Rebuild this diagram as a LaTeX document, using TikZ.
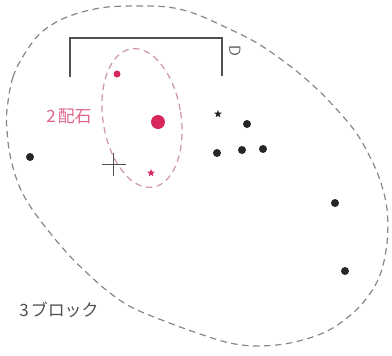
\documentclass[tikz,border=0pt]{standalone}
\usepackage{fontspec}
\newfontfamily\jp{Noto Sans CJK JP}
\usetikzlibrary{shapes.geometric}
\definecolor{pinkc}{RGB}{214,40,92}
\definecolor{pinktext}{RGB}{222,100,135}
\definecolor{dashgray}{RGB}{135,135,135}
\definecolor{dashpink}{RGB}{205,150,165}
\definecolor{darkline}{RGB}{80,80,80}
\tikzset{
  bigdash/.style={draw=dashgray, dash pattern=on 6.5bp off 4.5bp, line width=1.2bp},
  pinkdash/.style={draw=dashpink, dash pattern=on 6.5bp off 4.5bp, line width=1.2bp},
  blackdot/.style={circle, fill=black!85, inner sep=0pt, minimum size=8bp},
  pinkdot/.style={circle, fill=pinkc, inner sep=0pt, minimum size=7bp},
  bigpinkdot/.style={circle, fill=pinkc, inner sep=0pt, minimum size=14bp},
  starmark/.style={star, star points=5, star point ratio=2.3, inner sep=0pt, minimum size=8bp},
  lbl/.style={font=\jp\fontsize{17}{17}\selectfont, inner sep=0pt}
}
\begin{document}
\begin{tikzpicture}[x=1bp,y=-1bp]
\useasboundingbox (0,0) rectangle (392,356);
% outer block boundary
\draw[bigdash] plot[smooth cycle, tension=0.6] coordinates {
 (7,110) (13,77) (27,50) (43,31) (67,17) (100,8) (133,6) (167,7) (193,13) (223,26)
 (257,43) (290,66) (317,89) (340,113) (357,134) (370,157) (380,180) (387,209)
 (387,243) (380,275) (366,299) (347,318) (323,333) (290,343) (257,346) (230,343)
 (200,334) (167,322) (133,308) (110,293) (87,273) (67,253) (47,229) (30,206)
 (18,183) (10,155) (7,130)};
% pink group
\draw[pinkdash, rotate around={9:(142,118)}] (142,118) ellipse [x radius=39, y radius=70];
% bracket
\coordinate (b1) at (70,77);
\coordinate (b2) at (70,38);
\coordinate (b3) at (222,38);
\coordinate (b4) at (222,76);
\draw[darkline, line width=1.3bp] (b1) -- (b2) -- (b3) -- (b4);
\node[font=\sffamily\fontsize{16}{16}\selectfont, text=darkline, rotate=-90, inner sep=0pt] (d) at (235,51) {D};
% black stones
\node[blackdot] (s1) at (30,157) {};
\node[blackdot] (s2) at (247,124) {};
\node[blackdot] (s3) at (217,153) {};
\node[blackdot] (s4) at (242,150) {};
\node[blackdot] (s5) at (263,149) {};
\node[blackdot] (s6) at (335,203) {};
\node[blackdot] (s7) at (345,271) {};
\node[starmark, fill=black!85] (s8) at (218,114) {};
% pink stones
\node[pinkdot] (p1) at (117,74) {};
\node[bigpinkdot] (p2) at (158,122) {};
\node[starmark, fill=pinkc] (p3) at (151,173) {};
% cross
\coordinate (c) at (113,164);
\draw[darkline, line width=0.9bp] (102,164) -- (126,164) (113,153) -- (113,176);
% labels
\node[lbl, text=pinktext] (l2) at (69,116) {2\kern2bp 配石};
\node[lbl, text=darkline] (l3) at (59,310) {3\kern2bp ブロック};
\end{tikzpicture}
\end{document}
